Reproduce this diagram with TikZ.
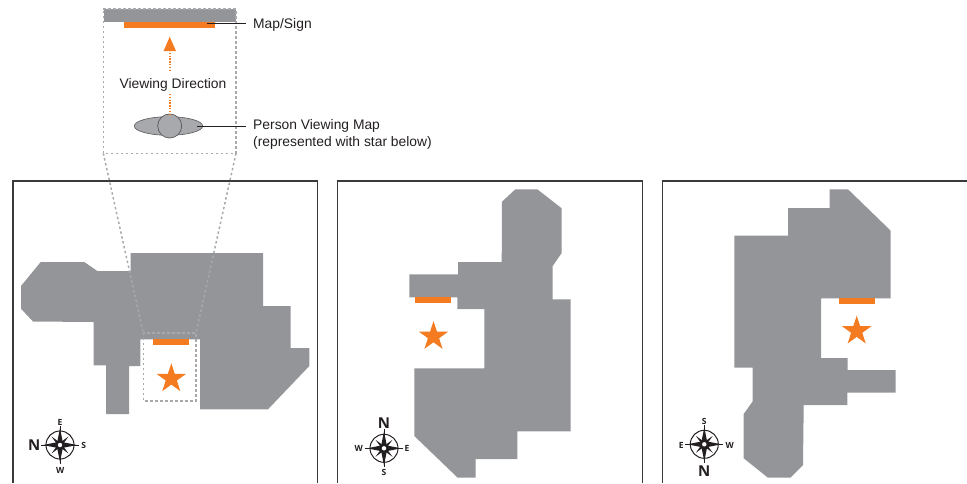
\documentclass[tikz,border=0pt]{standalone}
\usepackage{fontspec}
\setmainfont{Liberation Sans}
\newfontfamily\rosefont{Open Sans}
\usetikzlibrary{shapes.geometric,arrows.meta}
\definecolor{bldg}{HTML}{939598}
\definecolor{sign}{HTML}{F47B20}
\definecolor{dotgrey}{HTML}{A7A9AC}
\definecolor{ink}{HTML}{231F20}
\definecolor{framec}{HTML}{3A3A3C}
\tikzset{
  building/.style={fill=bldg,draw=none},
  signbar/.style={fill=sign,draw=none},
  panel/.style={draw=framec,line width=1.2pt},
  dots/.style={draw=dotgrey,line width=1.5pt,dash pattern=on 2.4pt off 2.6pt},
  orangedots/.style={draw=sign,line width=1.6pt,dash pattern=on 1.4pt off 1.4pt},
  leader/.style={draw=ink,line width=0.8pt},
  lbl/.style={font=\fontsize{13.85}{17}\selectfont,text=ink,inner sep=0pt},
  starmark/.style={star,star points=5,star point ratio=2.618,fill=sign,draw=none,minimum size=30.8pt,inner sep=0pt},
  roselbl/.style={font=\rosefont\bfseries\fontsize{8.5}{8.5}\selectfont,text=ink,inner sep=0pt},
  rosebig/.style={font=\rosefont\bfseries\fontsize{15}{15}\selectfont,text=ink,inner sep=0pt}
}
\newcommand{\myrose}[2]{%
  \begin{scope}[shift={(#1,#2)}]
    \draw[ink,line width=1pt] (0,0) circle (14);
    \draw[ink,line width=0.6pt] (-19,0) -- (19,0) (0,-19) -- (0,19);
    \foreach \a in {45,135,225,315}
      \fill[ink,rotate=\a] (12,0) -- (0,1.9) -- (-1,0) -- (0,-1.9) -- cycle;
    \foreach \a in {0,90,180,270}
      \fill[ink,rotate=\a] (17,0) -- (0,3.4) -- (-1,0) -- (0,-3.4) -- cycle;
    \fill[white] (0,0) circle (2.2);
  \end{scope}}
\begin{document}
\begin{tikzpicture}[x=1pt,y=-1pt]
\useasboundingbox (0,0) rectangle (967,483);
% panels
\draw[panel] (13,483) -- (13,181) -- (317.4,181) -- (317.4,483);
\draw[panel] (337.7,483) -- (337.7,181) -- (642.3,181) -- (642.3,483);
\draw[panel] (662.3,483) -- (662.3,181) -- (967,181);
% buildings
\fill[building] (40.7,262) -- (84.3,262) -- (97.3,271) -- (130.7,271) -- (130.7,253) -- (263,253) -- (263,306) -- (290.7,306) -- (290.7,348) -- (309.3,348) -- (309.3,366) -- (268,409.3) -- (200,409.3) -- (200,339.3) -- (140.3,339.3) -- (140.3,366) -- (129,366) -- (129,414) -- (106,414) -- (106,365.3) -- (93.7,365.3) -- (93.7,322) -- (33,321.5) -- (21,308.7) -- (21,286) -- cycle;
\fill[building] (515.3,189.3) -- (537.3,189.3) -- (561.7,208.3) -- (561.7,253) -- (552.7,266) -- (552.7,299.3) -- (570.7,299.3) -- (570.7,431.3) -- (517.3,431.3) -- (517.3,459) -- (475.7,459) -- (475.7,477.7) -- (457.7,477.7) -- (414.3,436) -- (414.3,368.3) -- (484.3,368.3) -- (484.3,309) -- (457.3,309) -- (457.3,297.3) -- (409.3,297.3) -- (409.3,274.3) -- (458,274.3) -- (458,262) -- (501.7,262) -- (502,201.7) -- cycle;
\fill[building] (829.7,189.3) -- (848,189.3) -- (890.7,230.7) -- (890.7,298.3) -- (821,298.3) -- (821,358) -- (847.7,358) -- (847.7,370) -- (895.7,370) -- (895.7,392.7) -- (847.3,392.7) -- (847.3,405) -- (803.7,405) -- (803,465) -- (790.3,477.7) -- (768,477.7) -- (743.7,458.3) -- (743.7,414) -- (752.7,401.3) -- (752.7,367.7) -- (734.3,367.7) -- (734.3,235.7) -- (788,235.7) -- (788,208) -- (829.7,208) -- cycle;
% signs
\fill[signbar] (153,339.3) rectangle (189,345);
\fill[signbar] (415,297.3) rectangle (451,303);
\fill[signbar] (839,298.3) rectangle (875,303.7);
% stars
\node[starmark] (star1) at (171.3,378.7) {};
\node[starmark] (star2) at (433.5,336.4) {};
\node[starmark] (star3) at (856.7,331) {};
% top detail
\fill[bldg] (103.7,9.3) rectangle (236,22);
\fill[signbar] (124,22) rectangle (215,28);
\coordinate (tl) at (103.3,153.3);
\coordinate (tr) at (236,153.3);
\coordinate (bl) at (143.3,333);
\coordinate (br) at (196,333);
\draw[dots] (103.3,9) -- (236,9) -- (tr) -- (tl) -- cycle;
\draw[dots] (tl) -- (bl);
\draw[dots] (tr) -- (br);
\draw[dots] (bl) rectangle (196,401);
% viewer
\node[ellipse,fill=dotgrey,draw=ink!75,line width=0.6pt,minimum width=68.4pt,minimum height=18.6pt,inner sep=0pt] (body) at (168.5,126) {};
\node[circle,fill=dotgrey,draw=ink!75,line width=0.7pt,minimum size=24pt,inner sep=0pt] (head) at (169.7,126) {};
% viewing arrow
\node[lbl,anchor=center] (view) at (173,84.5) {Viewing Direction};
\coordinate (tip) at (169.7,36.7);
\coordinate (stemtop) at (169.7,50);
\coordinate (stemmid) at (169.7,72);
\coordinate (stemlow) at (169.7,94);
\fill[sign] (tip) -- (176,51) -- (163.6,51) -- cycle;
\draw[orangedots] (stemtop) -- (stemmid);
\draw[orangedots] (stemlow) -- (head.north);
% labels and leaders
\node[lbl,anchor=west] (maplbl) at (253,25) {Map/Sign};
\node[lbl,anchor=north west,align=left] (personlbl) at (253,119.5) {Person Viewing Map\\(represented with star below)};
\coordinate (mapend) at (206.7,23.7);
\coordinate (mapout) at (246,23.7);
\coordinate (perstart) at (196.7,126);
\coordinate (perout) at (246,126);
\draw[leader] (mapend) -- (mapout);
\draw[leader] (perstart) -- (perout);
% compasses
\myrose{60}{445}
\myrose{384}{448.3}
\myrose{704.3}{444.3}
\node[rosebig] (n1) at (34.3,445.3) {N};
\node[roselbl] (e1) at (60,422) {E};
\node[roselbl] (s1) at (83.7,445.3) {S};
\node[roselbl] (w1) at (60.3,470) {W};
\node[rosebig] (n2) at (384,422.7) {N};
\node[roselbl] (w2) at (358.7,448.3) {W};
\node[roselbl] (e2) at (407,448.3) {E};
\node[roselbl] (s2) at (384,472.3) {S};
\node[rosebig] (n3) at (704.3,470.7) {N};
\node[roselbl] (s3) at (704.3,421) {S};
\node[roselbl] (e3) at (681.3,445) {E};
\node[roselbl] (w3) at (729.7,445) {W};
\end{tikzpicture}
\end{document}
